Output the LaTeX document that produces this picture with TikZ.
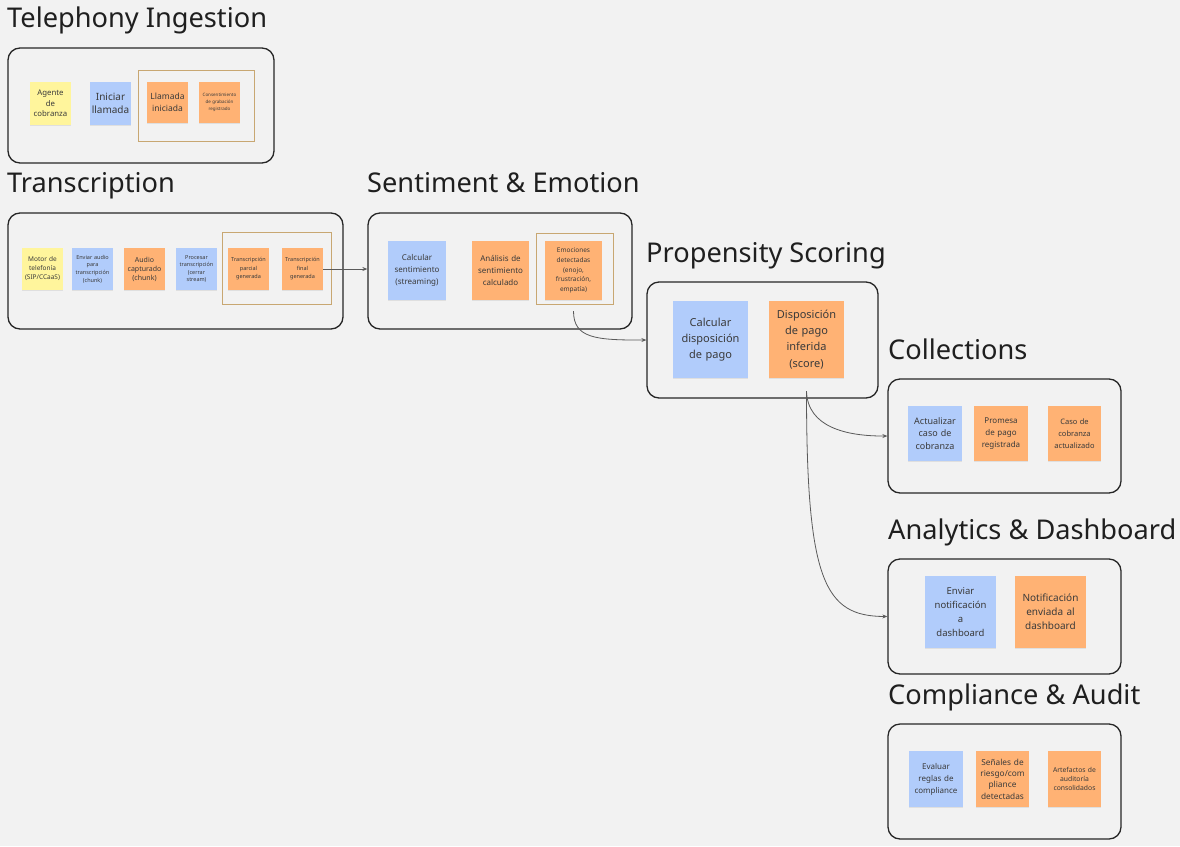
\documentclass[tikz,border=0pt]{standalone}
\usepackage{fontspec}
\setmainfont{Noto Sans}
\usetikzlibrary{arrows.meta,calc,shadows}
\definecolor{bgc}{HTML}{F2F2F2}
\definecolor{stY}{HTML}{FFF59C}
\definecolor{stB}{HTML}{B1CCFB}
\definecolor{stO}{HTML}{FFB274}
\definecolor{goldc}{HTML}{C8A772}
\definecolor{framec}{HTML}{262626}
\definecolor{txtc}{HTML}{3A3A3A}
\definecolor{linec}{HTML}{5A5A5A}
\newcommand\fz[2]{\fontsize{#1}{#2}\selectfont}
\tikzset{
  frame/.style={draw=framec, line width=1.3pt, rounded corners=12pt, fill=none, inner sep=0pt},
  goldbox/.style={draw=goldc, line width=1pt, fill=none, inner sep=0pt},
  sticky/.style={inner sep=1pt, align=center, text=txtc,
    drop shadow={shadow xshift=0pt, shadow yshift=-1.2pt, opacity=0.08, fill=black}},
  yel/.style={sticky, fill=stY},
  blu/.style={sticky, fill=stB},
  ora/.style={sticky, fill=stO},
  sz41/.style={minimum width=41pt, minimum height=43pt, text width=39pt},
  title/.style={anchor=base west, inner sep=0pt, text=black!88, font=\fz{27.2}{31}},
  conn/.style={draw=linec, line width=0.8pt, -{Stealth[length=5pt,width=4pt]}}
}
\begin{document}
\begin{tikzpicture}[x=1pt,y=-1pt]
\fill[bgc] (0,0) rectangle (1180,846);
\useasboundingbox (0,0) rectangle (1180,846);

% ---------- Telephony Ingestion ----------
\node[title] (tTel) at (7,27) {Telephony Ingestion};
\node[frame, minimum width=266pt, minimum height=115pt] (fTel) at (141,105.5) {};
\node[goldbox, minimum width=116pt, minimum height=71pt] (gTel) at (196,105.5) {};
\node[yel, sz41, font=\fz{7.8}{10.3}] (agente) at (50.5,103.5) {Agente\\de\\cobranza};
\node[blu, sz41, font=\fz{10}{13.3}] (iniciar) at (110.5,103.5) {Iniciar\\llamada};
\node[ora, sz41, minimum height=41pt, font=\fz{8.5}{12.5}] (llamada) at (167.5,102.5) {Llamada\\iniciada};
\node[ora, sz41, minimum height=41pt, font=\fz{4.5}{7}] (consent) at (219.5,102.5) {Consentimiento\\de grabación\\registrado};

% ---------- Transcription ----------
\node[title] (tTr) at (7,192) {Transcription};
\node[frame, minimum width=335pt, minimum height=116pt] (fTr) at (175.5,271) {};
\node[goldbox, minimum width=109pt, minimum height=72pt] (gTr) at (276.5,268) {};
\node[yel, sz41, minimum height=42pt, font=\fz{6.5}{9}] (motor) at (42.5,269) {Motor de\\telefonía\\(SIP/CCaaS)};
\node[blu, sz41, minimum height=42pt, font=\fz{5.5}{7.6}] (enviar) at (92.5,269) {Enviar audio\\para\\transcripción\\(chunk)};
\node[ora, sz41, minimum height=42pt, font=\fz{7}{9}] (audio) at (144.5,269) {Audio\\capturado\\(chunk)};
\node[blu, sz41, minimum height=42pt, font=\fz{5.5}{7.6}] (procesar) at (196.5,269) {Procesar\\transcripción\\(cerrar\\stream)};
\node[ora, sz41, minimum height=42pt, font=\fz{5.5}{8.5}] (parcial) at (248.5,269) {Transcripción\\parcial\\generada};
\node[ora, sz41, minimum height=42pt, font=\fz{5.5}{8.5}] (final) at (302.5,269) {Transcripción\\final\\generada};

% ---------- Sentiment & Emotion ----------
\node[title] (tSe) at (367,192) {Sentiment \& Emotion};
\node[frame, minimum width=264pt, minimum height=116pt] (fSe) at (500,271) {};
\node[goldbox, minimum width=77pt, minimum height=71pt] (gSe) at (574.5,268.5) {};
\node[blu, minimum width=58pt, minimum height=59pt, text width=56pt, font=\fz{8}{11.7}] (calcsent) at (417,270.5) {Calcular\\sentimiento\\(streaming)};
\node[ora, minimum width=57pt, minimum height=59pt, text width=55pt, font=\fz{8}{11.7}] (analisis) at (500.5,270.5) {Análisis de\\sentimiento\\calculado};
\node[ora, minimum width=57pt, minimum height=59pt, text width=55pt, font=\fz{6.5}{9.6}] (emociones) at (573.5,270.5) {Emociones\\detectadas\\(enojo,\\frustración,\\empatía)};

% ---------- Propensity Scoring ----------
\node[title] (tPr) at (646,262) {Propensity Scoring};
\node[frame, minimum width=231pt, minimum height=116pt] (fPr) at (762.5,340) {};
\node[blu, minimum width=75pt, minimum height=77pt, text width=73pt, font=\fz{11}{16.3}] (calcdisp) at (710.5,339.5) {Calcular\\disposición\\de pago};
\node[ora, minimum width=75pt, minimum height=77pt, text width=73pt, font=\fz{11}{16.3}] (dispinf) at (806.5,339.5) {Disposición\\de pago\\inferida\\(score)};

% ---------- Collections ----------
\node[title] (tCo) at (888,359) {Collections};
\node[frame, minimum width=233pt, minimum height=114pt] (fCo) at (1004.5,436) {};
\node[blu, minimum width=54pt, minimum height=55pt, text width=52pt, font=\fz{9}{12.5}] (actualizar) at (935,433.5) {Actualizar\\caso de\\cobranza};
\node[ora, minimum width=54pt, minimum height=55pt, text width=52pt, font=\fz{8}{12}] (promesa) at (1001,433.5) {Promesa\\de pago\\registrada};
\node[ora, minimum width=53pt, minimum height=55pt, text width=51pt, font=\fz{7.5}{11.7}] (caso) at (1074.5,433.5) {Caso de\\cobranza\\actualizado};

% ---------- Analytics & Dashboard ----------
\node[title] (tAn) at (888,539) {Analytics \& Dashboard};
\node[frame, minimum width=233pt, minimum height=115pt] (fAn) at (1004.5,616.5) {};
\node[blu, minimum width=71pt, minimum height=72pt, text width=69pt, font=\fz{9.5}{14}] (enviarnot) at (960.5,612) {Enviar\\notificación\\a\\dashboard};
\node[ora, minimum width=71pt, minimum height=72pt, text width=69pt, font=\fz{10}{14}] (notif) at (1050.5,612) {Notificación\\enviada al\\dashboard};

% ---------- Compliance & Audit ----------
\node[title] (tCm) at (888,704) {Compliance \& Audit};
\node[frame, minimum width=233pt, minimum height=115pt] (fCm) at (1004.5,781.5) {};
\node[blu, minimum width=54pt, minimum height=56pt, text width=52pt, font=\fz{8}{12}] (evaluar) at (936,779) {Evaluar\\reglas de\\compliance};
\node[ora, minimum width=53pt, minimum height=56pt, text width=51pt, font=\fz{8.3}{11.3}] (senales) at (1002.5,779) {Señales de\\riesgo/com\\pliance\\detectadas};
\node[ora, minimum width=53pt, minimum height=56pt, text width=51pt, font=\fz{6.8}{9.2}] (artefactos) at (1074.5,779) {Artefactos de\\auditoría\\consolidados};

% ---------- Connectors ----------
\draw[conn] (final.east) -- (final.east -| fSe.west);
\coordinate (emoOut) at ($(emociones.south)+(0,11)$);
\draw[conn] (emoOut) .. controls ($(emoOut)+(0,27)$) and ($(emoOut)+(22,29)$) .. (fPr.west);
\coordinate (dispOut) at ($(dispinf.south)+(0,13)$);
\draw[conn] (dispOut) .. controls ($(dispOut)+(1,36)$) and ($(dispOut)+(40,45)$) .. (fCo.west);
\draw[conn] (dispOut) .. controls ($(dispOut)+(0,190)$) and ($(dispOut)+(18,225)$) .. (fAn.west);
\end{tikzpicture}
\end{document}
